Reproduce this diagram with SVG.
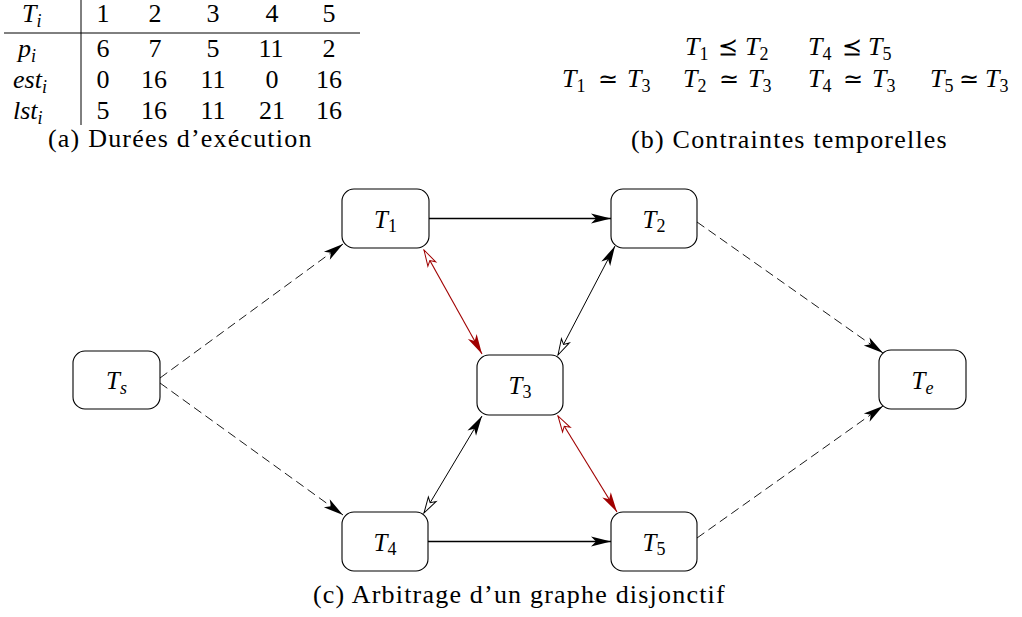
<svg xmlns="http://www.w3.org/2000/svg" width="1022" height="617" viewBox="0 0 1022 617" font-family="Liberation Serif, Times New Roman, serif">
<defs>
  <marker id="hb" viewBox="-21 -6 22 12" refX="0" refY="0" markerWidth="22" markerHeight="12" markerUnits="userSpaceOnUse" orient="auto-start-reverse">
    <path d="M0,0 L-20,-5 L-15,0 L-20,5 Z" fill="#000" stroke="none"/>
  </marker>
  <marker id="ob" viewBox="-18 -6 19 12" refX="0" refY="0" markerWidth="19" markerHeight="12" markerUnits="userSpaceOnUse" orient="auto-start-reverse">
    <path d="M0,0 L-16,-4.5 L-12,0 L-16,4.5 Z" fill="#fff" stroke="#000" stroke-width="1" stroke-dasharray="none"/>
  </marker>
  <marker id="hr" viewBox="-21 -6 22 12" refX="0" refY="0" markerWidth="22" markerHeight="12" markerUnits="userSpaceOnUse" orient="auto-start-reverse">
    <path d="M0,0 L-20,-5 L-15,0 L-20,5 Z" fill="#a00000" stroke="none"/>
  </marker>
  <marker id="or" viewBox="-18 -6 19 12" refX="0" refY="0" markerWidth="19" markerHeight="12" markerUnits="userSpaceOnUse" orient="auto-start-reverse">
    <path d="M0,0 L-16,-4.5 L-12,0 L-16,4.5 Z" fill="#fff" stroke="#a00000" stroke-width="1" stroke-dasharray="none"/>
  </marker>
</defs>
<rect width="1022" height="617" fill="#fff"/>

<g id="table" font-size="26" fill="#000" font-family="Liberation Serif, Times New Roman, serif">
  <line x1="81" y1="0" x2="81" y2="125" stroke="#000" stroke-width="1"/>
  <line x1="4" y1="33" x2="360" y2="33" stroke="#000" stroke-width="1"/>
  <text font-style="italic" x="22" y="22">T<tspan font-size="18" dy="5">i</tspan></text>
  <text font-style="italic" x="18" y="57">p<tspan font-size="18" dy="5">i</tspan></text>
  <text font-style="italic" x="13" y="88">est<tspan font-size="18" dy="5">i</tspan></text>
  <text font-style="italic" x="13" y="119">lst<tspan font-size="18" dy="5">i</tspan></text>
  <g text-anchor="middle">
    <text x="103" y="22">1</text><text x="155" y="22">2</text><text x="213" y="22">3</text><text x="272" y="22">4</text><text x="329" y="22">5</text>
    <text x="103" y="57">6</text><text x="155" y="57">7</text><text x="213" y="57">5</text><text x="271" y="57">11</text><text x="329" y="57">2</text>
    <text x="103" y="88">0</text><text x="154" y="88">16</text><text x="213" y="88">11</text><text x="272" y="88">0</text><text x="329" y="88">16</text>
    <text x="103" y="119">5</text><text x="154" y="119">16</text><text x="213" y="119">11</text><text x="272" y="119">21</text><text x="329" y="119">16</text>
  </g>
  <text x="48" y="147" letter-spacing="1.2">(a) Durées d’exécution</text>
</g>

<g id="constraints" font-size="26" fill="#000" font-family="Liberation Serif, Times New Roman, serif">
  <text font-style="italic" x="685" y="55">T<tspan font-size="18" font-style="normal" dy="5">1</tspan></text>
  <text font-style="italic" x="745" y="55">T<tspan font-size="18" font-style="normal" dy="5">2</tspan></text>
  <text font-style="italic" x="808" y="55">T<tspan font-size="18" font-style="normal" dy="5">4</tspan></text>
  <text font-style="italic" x="868" y="55">T<tspan font-size="18" font-style="normal" dy="5">5</tspan></text>
  <text font-style="italic" x="562" y="87">T<tspan font-size="18" font-style="normal" dy="5">1</tspan></text>
  <text font-style="italic" x="627" y="87">T<tspan font-size="18" font-style="normal" dy="5">3</tspan></text>
  <text font-style="italic" x="683" y="87">T<tspan font-size="18" font-style="normal" dy="5">2</tspan></text>
  <text font-style="italic" x="748" y="87">T<tspan font-size="18" font-style="normal" dy="5">3</tspan></text>
  <text font-style="italic" x="808" y="87">T<tspan font-size="18" font-style="normal" dy="5">4</tspan></text>
  <text font-style="italic" x="872" y="87">T<tspan font-size="18" font-style="normal" dy="5">3</tspan></text>
  <text font-style="italic" x="930" y="87">T<tspan font-size="18" font-style="normal" dy="5">5</tspan></text>
  <text font-style="italic" x="985" y="87">T<tspan font-size="18" font-style="normal" dy="5">3</tspan></text>
  <g text-anchor="middle" font-size="24">
    <text x="728" y="55">⪯</text>
    <text x="852" y="55">⪯</text>
    <text x="608" y="87">≃</text>
    <text x="729" y="87">≃</text>
    <text x="853" y="87">≃</text>
    <text x="969" y="87">≃</text>
  </g>
  <text x="631" y="148" letter-spacing="1.2">(b) Contraintes temporelles</text>
</g>

<g id="connectors" fill="none">
  <g stroke="#000" stroke-width="1.5">
    <line x1="429" y1="218.5" x2="611" y2="218.5" marker-end="url(#hb)"/>
    <line x1="428" y1="541.5" x2="611" y2="541.5" marker-end="url(#hb)"/>
  </g>
  <g stroke="#000" stroke-width="0.9" stroke-dasharray="9 5">
    <line x1="160" y1="378" x2="343" y2="244" marker-end="url(#hb)"/>
    <line x1="160" y1="383" x2="343" y2="515" marker-end="url(#hb)"/>
    <line x1="697" y1="222" x2="883" y2="353" marker-end="url(#hb)"/>
    <line x1="697" y1="538" x2="883" y2="406" marker-end="url(#hb)"/>
  </g>
  <g stroke="#000" stroke-width="1">
    <line x1="558" y1="355" x2="615" y2="246" marker-start="url(#ob)" marker-end="url(#hb)"/>
    <line x1="424" y1="513" x2="482" y2="416" marker-start="url(#ob)" marker-end="url(#hb)"/>
  </g>
  <g stroke="#a00000" stroke-width="1.1">
    <line x1="424" y1="250" x2="482" y2="354" marker-start="url(#or)" marker-end="url(#hr)"/>
    <line x1="558" y1="416" x2="617" y2="512" marker-start="url(#or)" marker-end="url(#hr)"/>
  </g>
</g>

<g id="nodes" font-size="25" text-anchor="middle" font-family="Liberation Serif, Times New Roman, serif">
  <g id="Ts">
    <rect x="73" y="351" width="87" height="58" rx="12" fill="#fff" stroke="#000" stroke-width="1.1"/>
    <text font-style="italic" x="116.5" y="389">T<tspan font-size="18" dy="5">s</tspan></text>
  </g>
  <g id="T1">
    <rect x="342" y="189" width="87" height="59" rx="12" fill="#fff" stroke="#000" stroke-width="1.1"/>
    <text font-style="italic" x="385.5" y="228">T<tspan font-size="18" font-style="normal" dy="4">1</tspan></text>
  </g>
  <g id="T2">
    <rect x="611" y="189" width="86" height="59" rx="12" fill="#fff" stroke="#000" stroke-width="1.1"/>
    <text font-style="italic" x="654" y="228">T<tspan font-size="18" font-style="normal" dy="4">2</tspan></text>
  </g>
  <g id="T3">
    <rect x="477" y="355" width="86" height="60" rx="12" fill="#fff" stroke="#000" stroke-width="1.1"/>
    <text font-style="italic" x="520" y="394">T<tspan font-size="18" font-style="normal" dy="4">3</tspan></text>
  </g>
  <g id="T4">
    <rect x="342" y="512" width="86" height="59" rx="12" fill="#fff" stroke="#000" stroke-width="1.1"/>
    <text font-style="italic" x="385" y="551">T<tspan font-size="18" font-style="normal" dy="4">4</tspan></text>
  </g>
  <g id="T5">
    <rect x="611" y="512" width="86" height="59" rx="12" fill="#fff" stroke="#000" stroke-width="1.1"/>
    <text font-style="italic" x="654" y="551">T<tspan font-size="18" font-style="normal" dy="4">5</tspan></text>
  </g>
  <g id="Te">
    <rect x="879" y="350" width="87" height="59" rx="12" fill="#fff" stroke="#000" stroke-width="1.1"/>
    <text font-style="italic" x="922.5" y="389">T<tspan font-size="18" dy="5">e</tspan></text>
  </g>
</g>

<text font-family="Liberation Serif, Times New Roman, serif" x="313" y="603" font-size="26" letter-spacing="1.2">(c) Arbitrage d’un graphe disjonctif</text>
</svg>
